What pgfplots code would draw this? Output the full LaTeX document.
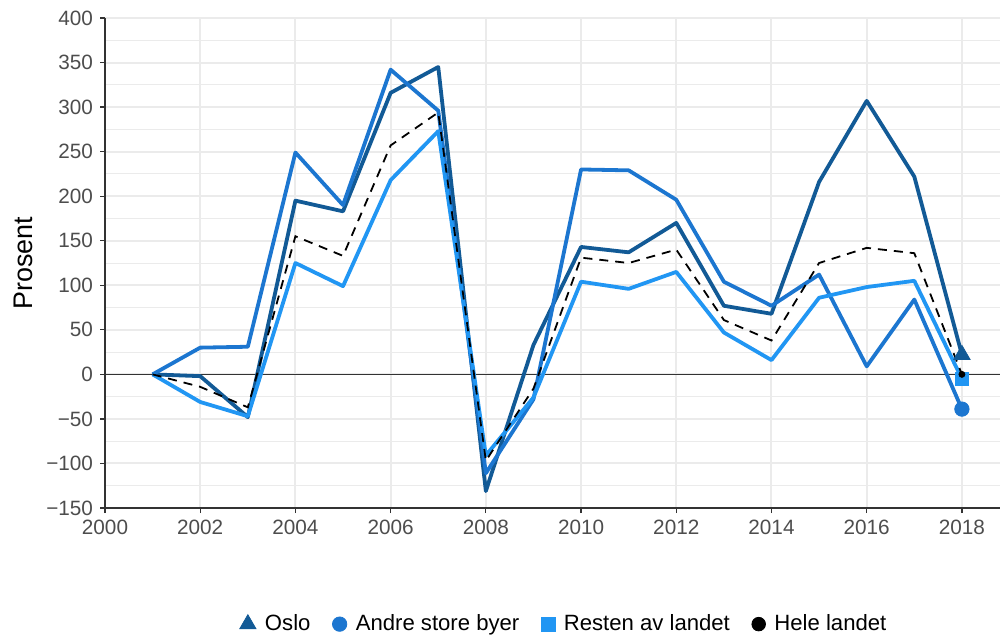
\documentclass[border=0pt]{standalone}
\usepackage{pgfplots}
\pgfplotsset{compat=1.18}
\usepackage{fontspec}
\setmainfont{Liberation Sans}
\definecolor{oslo}{HTML}{125A96}
\definecolor{andre}{HTML}{1C76D0}
\definecolor{resten}{HTML}{2196F3}
\definecolor{gridc}{HTML}{EBEBEB}
\definecolor{axc}{HTML}{333333}
\definecolor{tickc}{HTML}{4D4D4D}
\begin{document}
\begin{tikzpicture}
\useasboundingbox (-52.5bp,-64bp) rectangle (448.5bp,254bp);
\begin{axis}[
  at={(0,0)}, anchor=south west,
  scale only axis, width=447.5bp, height=245bp,
  xmin=2000, xmax=2018.8, ymin=-150, ymax=400,
  axis x line*=bottom, axis y line*=left,
  axis line style={axc, line width=0.6bp, -},
  xtick={2000,2002,...,2018},
  ytick={-150,-100,...,400},
  yticklabels={−150,−100,−50,0,50,100,150,200,250,300,350,400},
  x tick label style={/pgf/number format/1000 sep={}, font=\fontsize{10.4}{12}\selectfont, text=tickc},
  y tick label style={font=\fontsize{10.4}{12}\selectfont, text=tickc},
  /pgf/number format/assume math mode=true,
  tick align=outside, major tick length=2.5bp, minor tick length=0pt,
  tick style={axc, line width=0.6bp},
  minor x tick num=1, minor y tick num=1,
  grid=both,
  major grid style={gridc, line width=1bp},
  minor grid style={gridc, line width=0.5bp},
  ylabel={Prosent}, ylabel style={font=\fontsize{13.5}{15}\selectfont},
  legend columns=4,
  legend style={at={(axis description cs:0.514,-0.237)}, anchor=center, draw=none, fill=none,
    font=\fontsize{11.1}{13}\selectfont,
    /tikz/every odd column/.append style={column sep=2.5bp},
    /tikz/every even column/.append style={column sep=9bp}},
  legend cell align=left,
  clip=false,
]
\addplot[axc, line width=0.5bp, forget plot] coordinates {(2000,0) (2018.8,0)};
\addplot[oslo, line width=1.9bp, line join=round, forget plot] coordinates {
(2001,0) (2002,-2) (2003,-48) (2004,195) (2005,183) (2006,316) (2007,345) (2008,-131)
(2009,33) (2010,143) (2011,137) (2012,170) (2013,77) (2014,68) (2015,216) (2016,307)
(2017,222) (2018,22)};
\addplot[andre, line width=1.9bp, line join=round, forget plot] coordinates {
(2001,0) (2002,30) (2003,31) (2004,249) (2005,190) (2006,342) (2007,296) (2008,-111)
(2009,-28) (2010,230) (2011,229) (2012,196) (2013,104) (2014,77) (2015,112) (2016,9)
(2017,84) (2018,-39)};
\addplot[resten, line width=1.9bp, line join=round, forget plot] coordinates {
(2001,0) (2002,-31) (2003,-47) (2004,125) (2005,99) (2006,218) (2007,273) (2008,-91)
(2009,-26) (2010,104) (2011,96) (2012,115) (2013,47) (2014,16) (2015,86) (2016,98)
(2017,105) (2018,-5)};
\addplot[black, line width=0.9bp, dash pattern=on 4.5bp off 3.5bp, forget plot] coordinates {
(2001,0) (2002,-14) (2003,-37) (2004,155) (2005,133) (2006,257) (2007,294) (2008,-97)
(2009,-16) (2010,131) (2011,125) (2012,140) (2013,61) (2014,38) (2015,125) (2016,142)
(2017,136) (2018,0)};
\addplot[only marks, mark=triangle*, mark size=4.7bp, color=oslo, forget plot] coordinates {(2018,22)};
\addplot[only marks, mark=*, mark size=3.6bp, color=andre, forget plot] coordinates {(2018,-39)};
\addplot[only marks, mark=square*, mark size=3.4bp, color=resten, forget plot] coordinates {(2018,-5)};
\addplot[only marks, mark=*, mark size=1.5bp, color=black, forget plot] coordinates {(2018,0)};
\addlegendimage{only marks, mark=triangle*, mark size=4.7bp, color=oslo}
\addlegendentry{Oslo}
\addlegendimage{only marks, mark=*, mark size=3.6bp, color=andre}
\addlegendentry{Andre store byer}
\addlegendimage{only marks, mark=square*, mark size=3.4bp, color=resten}
\addlegendentry{Resten av landet}
\addlegendimage{only marks, mark=*, mark size=3.4bp, color=black}
\addlegendentry{Hele landet}
\end{axis}
\end{tikzpicture}
\end{document}
